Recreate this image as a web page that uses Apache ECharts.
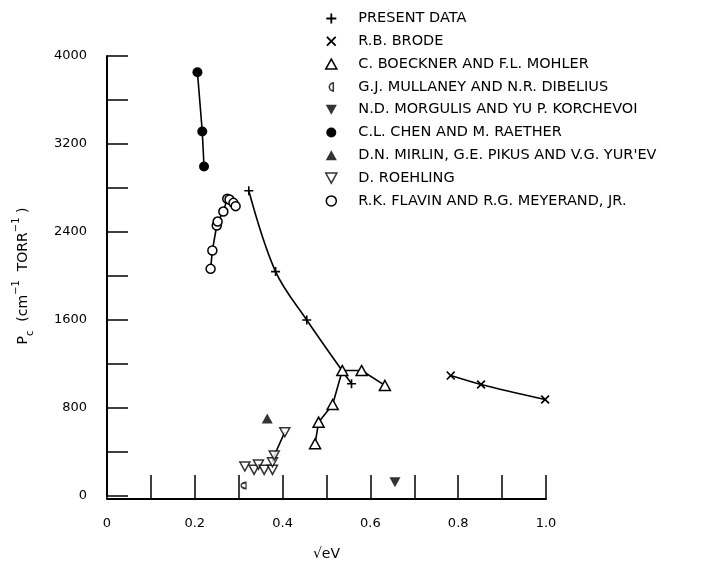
<!DOCTYPE html>
<html><head><meta charset="utf-8">
<script src="https://cdn.jsdelivr.net/npm/echarts@6/dist/echarts.min.js"></script>
<style>html,body{margin:0;padding:0;background:#fff}#c{width:722px;height:562px}</style>
</head><body><div id="c"></div>
<script>
// ---- data (x = sqrt(eV), y = Pc in cm^-1 TORR^-1) ----
const presentX = [0.323, 0.384, 0.455, 0.557];
const presentY = [2775, 2040, 1600, 1020];
const brodeX = [0.783, 0.852, 0.998];
const brodeY = [1095, 1014, 877];
const boecknerX = [0.474, 0.482, 0.514, 0.536, 0.580, 0.633];
const boecknerY = [475, 671, 832, 1141, 1141, 1005];
const mullaneyX = [0.311];
const mullaneyY = [95];
const morgulisX = [0.656];
const morgulisY = [125];
const chenX = [0.206, 0.217, 0.221];
const chenY = [3853, 3314, 2995];
const mirlinX = [0.365];
const mirlinY = [705];
const roehlingX = [0.314, 0.335, 0.345, 0.358, 0.377, 0.377, 0.381, 0.405];
const roehlingY = [268, 238, 286, 238, 238, 307, 368, 580];
const flavinX = [0.236, 0.240, 0.250, 0.252, 0.265, 0.274, 0.279, 0.288, 0.293];
const flavinY = [2065, 2232, 2459, 2495, 2586, 2702, 2695, 2665, 2635];

const legendNames = [
  'PRESENT DATA',
  'R.B. BRODE',
  'C. BOECKNER AND F.L. MOHLER',
  'G.J. MULLANEY AND N.R. DIBELIUS',
  'N.D. MORGULIS AND YU P. KORCHEVOI',
  'C.L. CHEN AND M. RAETHER',
  "D.N. MIRLIN, G.E. PIKUS AND V.G. YUR'EV",
  'D. ROEHLING',
  'R.K. FLAVIN AND R.G. MEYERAND, JR.'
];

// ---- symbols ----
const PLUS = 'path://M4.1,0 H5.9 V4.1 H10 V5.9 H5.9 V10 H4.1 V5.9 H0 V4.1 H4.1 Z';
const CROSS = 'path://M1.3,0 L5,3.7 L8.7,0 L10,1.3 L6.3,5 L10,8.7 L8.7,10 L5,6.3 L1.3,10 L0,8.7 L3.7,5 L0,1.3 Z';
const DOWN = 'path://M0,0 L10,0 L5,9 Z';
const UP = 'path://M5,0 L10,9 L0,9 Z';
const HALF = 'path://M7,0 L7,10 M7,1.2 A4,3.8 0 1 0 7,8.8';

const pts = (xs, ys) => xs.map((x, i) => [x, ys[i]]);
const FONT = 'DejaVu Sans';
const BLACK = '#000';
const solid = {color: BLACK, borderWidth: 0};
const open = {color: '#fff', borderColor: BLACK, borderWidth: 1.5};
const lineS = {color: BLACK, width: 1.6};

const chart = echarts.init(document.getElementById('c'), null, {renderer: 'canvas'});
chart.setOption({
  animation: false,
  backgroundColor: '#fff',
  textStyle: {fontFamily: FONT},
  grid: {left: 107, right: 176, top: 56, bottom: 66, containLabel: false, outerBoundsMode: 'none'},
  legend: {
    orient: 'vertical', left: 320, top: 6,
    itemWidth: 44, itemHeight: 10, itemGap: 7.8,
    selectedMode: false,
    textStyle: {fontFamily: FONT, fontSize: 14.5, color: BLACK, lineHeight: 14},
    data: [
      {name: legendNames[0], icon: PLUS, itemStyle: solid},
      {name: legendNames[1], icon: CROSS, itemStyle: solid},
      {name: legendNames[2], icon: UP, itemStyle: open},
      {name: legendNames[3], icon: HALF, itemStyle: open},
      {name: legendNames[4], icon: DOWN, itemStyle: solid},
      {name: legendNames[5], icon: 'circle', itemStyle: solid},
      {name: legendNames[6], icon: UP, itemStyle: solid},
      {name: legendNames[7], icon: DOWN, itemStyle: open},
      {name: legendNames[8], icon: 'circle', itemStyle: open}
    ]
  },
  xAxis: {
    type: 'value', min: 0, max: 1, interval: 0.1, offset: 3,
    name: '\u221AeV', nameLocation: 'middle', nameGap: 48,
    nameTextStyle: {fontFamily: FONT, fontSize: 14, color: BLACK},
    axisLine: {onZero: false, lineStyle: {color: BLACK, width: 2}},
    axisTick: {inside: true, length: 24, lineStyle: {color: BLACK, width: 1.5}},
    axisLabel: {
      margin: 18, fontFamily: FONT, fontSize: 13, color: BLACK,
      formatter: v => {
        const t = Math.round(v * 10);
        if (t % 2 !== 0) return '';
        if (t === 0) return '0';
        return (t / 10).toFixed(1);
      }
    },
    splitLine: {show: false}
  },
  yAxis: {
    type: 'value', min: 0, max: 4000, interval: 400,
    name: '{n|P}{sub|c}{n|  (cm}{sup|\u22121}{n|  TORR}{sup|\u22121}{n| )}',
    nameLocation: 'middle', nameGap: 72, nameRotate: 90,
    nameTextStyle: {
      fontFamily: FONT, color: BLACK,
      rich: {
        n: {fontFamily: FONT, fontSize: 14, color: BLACK, lineHeight: 24, verticalAlign: 'middle'},
        sup: {fontFamily: FONT, fontSize: 10, color: BLACK, lineHeight: 10, verticalAlign: 'top'},
        sub: {fontFamily: FONT, fontSize: 10, color: BLACK, lineHeight: 10, verticalAlign: 'bottom'}
      }
    },
    axisLine: {lineStyle: {color: BLACK, width: 2}},
    axisTick: {inside: true, length: 21, lineStyle: {color: BLACK, width: 1.5}},
    axisLabel: {
      margin: 20, fontFamily: FONT, fontSize: 13, color: BLACK,
      formatter: v => (v % 800 === 0 ? String(v) : '')
    },
    splitLine: {show: false}
  },
  series: [
    {name: legendNames[0], type: 'line', smooth: 0.35, data: pts(presentX, presentY),
     symbol: PLUS, symbolSize: 9, itemStyle: solid, lineStyle: lineS, z: 3},
    {name: legendNames[1], type: 'line', smooth: 0.3, data: pts(brodeX, brodeY),
     symbol: CROSS, symbolSize: 9, itemStyle: solid, lineStyle: lineS},
    {name: legendNames[2], type: 'line', data: pts(boecknerX, boecknerY),
     symbol: UP, symbolSize: [11, 10], itemStyle: open, lineStyle: lineS, z: 4},
    {name: legendNames[3], type: 'scatter', data: pts(mullaneyX, mullaneyY),
     symbol: HALF, symbolSize: [5, 8], itemStyle: open},
    {name: legendNames[4], type: 'scatter', data: pts(morgulisX, morgulisY),
     symbol: DOWN, symbolSize: [11, 10], itemStyle: solid},
    {name: legendNames[5], type: 'line', data: pts(chenX, chenY),
     symbol: 'circle', symbolSize: 10, itemStyle: solid, lineStyle: lineS},
    {name: legendNames[6], type: 'scatter', data: pts(mirlinX, mirlinY),
     symbol: UP, symbolSize: [11, 10], itemStyle: solid},
    {name: 'roehling-line', type: 'line', data: pts(roehlingX.slice(5), roehlingY.slice(5)),
     symbol: 'none', lineStyle: lineS, z: 2},
    {name: legendNames[7], type: 'scatter', data: pts(roehlingX, roehlingY),
     symbol: DOWN, symbolSize: [10, 9], itemStyle: open, z: 3},
    {name: legendNames[8], type: 'line', data: pts(flavinX, flavinY),
     symbol: 'circle', symbolSize: 9, itemStyle: open, lineStyle: lineS}
  ]
});
</script>
</body></html>
